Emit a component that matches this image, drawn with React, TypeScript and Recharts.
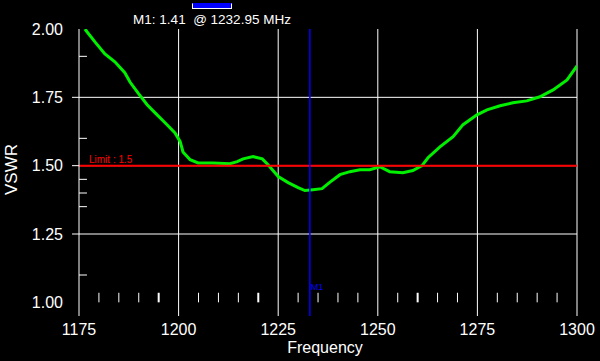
import { CartesianGrid, Line, LineChart, ReferenceLine, XAxis, YAxis } from "recharts";

const freqs = [
  1176.5, 1177, 1179, 1181.5, 1184, 1186.5, 1187.8, 1189.8, 1192.1, 1194.1, 1196.6, 1199.1, 1200.4,
  1201.1, 1202.9, 1204.9, 1208.6, 1212.9, 1214.7, 1216.2, 1218.7, 1221, 1222.4, 1225, 1227.5, 1230,
  1231.7, 1233.7, 1236, 1238, 1240.5, 1243, 1245.5, 1248, 1250.5, 1253, 1256.3, 1258.8, 1261.1,
  1262.6, 1265.6, 1268.9, 1271.4, 1274.9, 1277.4, 1280.7, 1283.9, 1287.4, 1290.7, 1294, 1297.5, 1300,
];
const vswr = [
  2.0, 1.99, 1.953, 1.909, 1.88, 1.84, 1.806, 1.766, 1.723, 1.693, 1.657, 1.62, 1.588,
  1.55, 1.522, 1.51, 1.51, 1.507, 1.515, 1.525, 1.533, 1.525, 1.504, 1.46, 1.438, 1.42,
  1.409, 1.412, 1.416, 1.44, 1.467, 1.478, 1.485, 1.485, 1.496, 1.478, 1.474, 1.482, 1.5,
  1.529, 1.569, 1.606, 1.65, 1.686, 1.704, 1.719, 1.73, 1.737, 1.752, 1.777, 1.814, 1.865,
];

const xTicks = [1175, 1200, 1225, 1250, 1275, 1300];
const yTicks = [1.0, 1.25, 1.5, 1.75, 2.0];
const yTickLines = [1.25, 1.5, 1.75];
const xGrid = [1200, 1225, 1250, 1275, 1300];
const yGrid = [1.25, 1.5, 1.75];
const yMinor = [1.9, 1.6, 1.45, 1.4, 1.35, 1.1];
const xMinor = [
  1180, 1185, 1190, 1195, 1205, 1210, 1215, 1220, 1230, 1235, 1240, 1245,
  1255, 1260, 1265, 1270, 1280, 1285, 1290, 1295,
];
const xMinorBold = [1195, 1220, 1260];

const markerFreq = 1232.95;
const markerValue = 1.41;
const limit = 1.5;

const data = freqs.map((f, i) => ({ freq: f, vswr: vswr[i] }));

const FONT = '"Liberation Sans", Arial, sans-serif';

function YTick(props: any) {
  const { x, y, payload } = props;
  const showLine = yTickLines.includes(payload.value);
  return (
    <g>
      {showLine && <line x1={x + 9} x2={x + 16} y1={y} y2={y} stroke="#fff" />}
      <text x={x} y={y} dy="0.36em" textAnchor="end" fill="#fff" fontSize={16} fontFamily={FONT}>
        {payload.value.toFixed(2)}
      </text>
    </g>
  );
}

export default function App() {
  return (
    <div style={{ position: "fixed", left: 0, top: 0, width: 600, height: 361, background: "#000" }}>
      <div
        style={{
          position: "absolute",
          left: 192,
          top: 3,
          width: 38,
          height: 4,
          background: "#0000ff",
          border: "1px solid #fff",
          borderTopColor: "#0000ff",
        }}
      />
      <div
        style={{
          position: "absolute",
          left: 0,
          width: 424,
          top: 12,
          textAlign: "center",
          color: "#fff",
          fontFamily: FONT,
          fontSize: 13.5,
          whiteSpace: "pre",
          lineHeight: "16px",
        }}
      >
        {`M1: ${markerValue.toFixed(2)}  @ ${markerFreq.toFixed(2)} MHz`}
      </div>
      <LineChart width={600} height={361} data={data} margin={{ top: 29, right: 23, bottom: 0, left: 0 }}>
        <CartesianGrid
          stroke="#fff"
          horizontalValues={yGrid}
          verticalValues={xGrid}
        />
        <XAxis
          type="number"
          dataKey="freq"
          domain={[1175, 1300]}
          ticks={xTicks}
          allowDataOverflow
          axisLine={false}
          tickLine={false}
          height={45}
          tick={{ fill: "#fff", fontSize: 16, fontFamily: FONT }}
          label={{
            content: (p: any) => {
              const vb = p.viewBox;
              return (
                <text
                  x={vb.x + vb.width / 2 - 3}
                  y={vb.y + vb.height - 8}
                  textAnchor="middle"
                  fill="#fff"
                  fontSize={16}
                  fontFamily={FONT}
                >
                  Frequency
                </text>
              );
            },
          }}
        />
        <YAxis
          type="number"
          domain={[0.95, 2.0]}
          ticks={yTicks}
          allowDataOverflow
          width={79}
          axisLine={{ stroke: "#fff" }}
          tickLine={false}
          tickSize={7}
          tickMargin={9}
          tick={<YTick />}
          label={{
            content: (p: any) => {
              const vb = p.viewBox;
              const cx = vb.x + 17;
              const cy = vb.y + vb.height / 2 - 3;
              return (
                <text
                  x={cx}
                  y={cy}
                  transform={`rotate(-90 ${cx} ${cy})`}
                  textAnchor="middle"
                  fill="#fff"
                  fontSize={17}
                  fontFamily={FONT}
                >
                  VSWR
                </text>
              );
            },
          }}
        />
        {yMinor.map((v) => (
          <ReferenceLine
            key={`ym${v}`}
            segment={[
              { x: 1175, y: v },
              { x: 1177, y: v },
            ]}
            stroke="#fff"
          />
        ))}
        {xMinor.map((f) => (
          <ReferenceLine
            key={`xm${f}`}
            segment={[
              { x: f, y: 1.0 },
              { x: f, y: 1.035 },
            ]}
            stroke="#fff"
            strokeWidth={xMinorBold.includes(f) ? 2 : 1}
          />
        ))}
        <Line
          type="linear"
          dataKey="vswr"
          stroke="#00f000"
          strokeWidth={3}
          dot={false}
          isAnimationActive={false}
        />
        <ReferenceLine
          y={limit}
          stroke="#ff0000"
          strokeWidth={2}
          label={{
            content: (p: any) => {
              const vb = p.viewBox;
              return (
                <text x={vb.x + 10} y={vb.y - 3} fill="#ff0000" fontSize={10} fontFamily={FONT}>
                  {`Limit : ${limit}`}
                </text>
              );
            },
          }}
        />
        <ReferenceLine
          x={markerFreq}
          stroke="#0000ff"
          strokeWidth={1.5}
          label={{
            content: (p: any) => {
              const vb = p.viewBox;
              return (
                <text x={vb.x + 1} y={vb.y + vb.height - 26} fill="#0000ff" fontSize={9} fontFamily={FONT}>
                  M1
                </text>
              );
            },
          }}
        />
      </LineChart>
    </div>
  );
}
